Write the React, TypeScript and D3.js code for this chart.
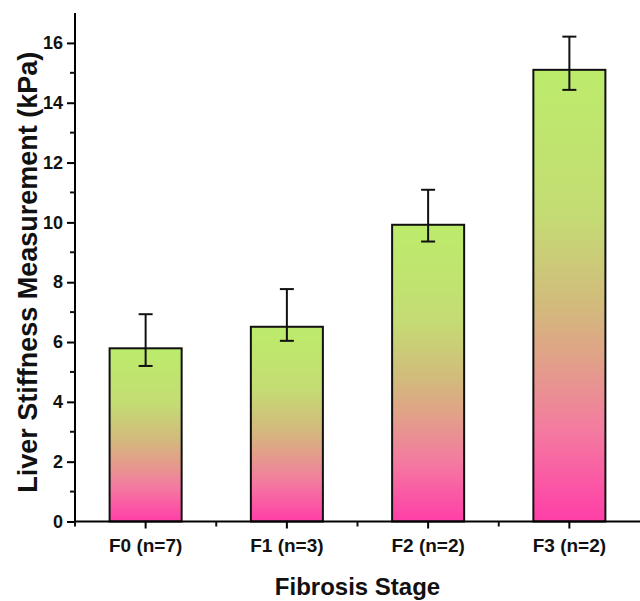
import { useEffect, useRef } from "react";
import * as d3 from "d3";

const categories = ["F0 (n=7)", "F1 (n=3)", "F2 (n=2)", "F3 (n=2)"];
const means = [5.79, 6.51, 9.92, 15.1];
const upper = [6.93, 7.77, 11.09, 16.21];
const lower = [5.2, 6.04, 9.36, 14.43];
const majorTicks = [0, 2, 4, 6, 8, 10, 12, 14, 16];
const minorTicks = [1, 3, 5, 7, 9, 11, 13, 15];

const W = 640;
const H = 601;
const FONT = "'Liberation Sans', Arial, sans-serif";

const App = () => {
  const ref = useRef<SVGSVGElement>(null);

  useEffect(() => {
    const svg = d3.select(ref.current);
    svg.selectAll("*").remove();

    const left = 75;
    const right = 640;
    const top = 13;
    const bottom = 521.5;

    const x = d3.scaleBand().domain(categories).range([left, right]).paddingInner(0.49).paddingOuter(0.245);
    const y = d3.scaleLinear().domain([0, 17]).range([bottom, top]);

    const defs = svg.append("defs");
    const grad = defs
      .append("linearGradient")
      .attr("id", "barGrad")
      .attr("x1", 0)
      .attr("y1", 0)
      .attr("x2", 0)
      .attr("y2", 1);
    [
      [0, "#bcec6b"],
      [0.32, "#c4dc73"],
      [0.52, "#d2bb7c"],
      [0.64, "#e1a188"],
      [0.8, "#f47aa0"],
      [1, "#ff3ea8"],
    ].forEach(([o, c]) => grad.append("stop").attr("offset", o as number).attr("stop-color", c as string));

    // bars
    svg
      .append("g")
      .selectAll("rect")
      .data(categories)
      .join("rect")
      .attr("x", (d) => x(d)!)
      .attr("width", x.bandwidth())
      .attr("y", (d, i) => y(means[i]))
      .attr("height", (d, i) => y(0) - y(means[i]))
      .attr("fill", "url(#barGrad)")
      .attr("stroke", "#111")
      .attr("stroke-width", 2);

    // error bars
    const eg = svg.append("g").attr("stroke", "#111").attr("stroke-width", 2);
    const cap = 7;
    categories.forEach((c, i) => {
      const cx = x(c)! + x.bandwidth() / 2;
      eg.append("line").attr("x1", cx).attr("x2", cx).attr("y1", y(lower[i])).attr("y2", y(upper[i]));
      eg.append("line").attr("x1", cx - cap).attr("x2", cx + cap).attr("y1", y(upper[i])).attr("y2", y(upper[i]));
      eg.append("line").attr("x1", cx - cap).attr("x2", cx + cap).attr("y1", y(lower[i])).attr("y2", y(lower[i]));
    });

    // y axis
    const yAxis = d3.axisLeft(y).tickValues(majorTicks).tickSize(8).tickSizeOuter(0).tickPadding(4);
    const gy = svg.append("g").attr("transform", `translate(${left},0)`).call(yAxis);
    gy.select(".domain").attr("stroke-width", 2).attr("d", `M0,${top}V${bottom}`);
    gy.selectAll(".tick line").attr("stroke-width", 2);
    gy.selectAll(".tick text").attr("font-family", FONT).attr("font-weight", "bold").attr("font-size", 18).attr("fill", "#111");
    gy.append("g")
      .selectAll("line")
      .data(minorTicks)
      .join("line")
      .attr("x1", -5)
      .attr("x2", 0)
      .attr("y1", (d) => y(d))
      .attr("y2", (d) => y(d))
      .attr("stroke", "#111")
      .attr("stroke-width", 2);

    // x axis
    const xAxis = d3.axisBottom(x).tickSize(7).tickSizeOuter(0).tickPadding(10);
    const gx = svg.append("g").attr("transform", `translate(0,${bottom})`).call(xAxis);
    gx.select(".domain").attr("stroke-width", 2).attr("d", `M${left},0H${right}`);
    gx.selectAll(".tick line").attr("stroke-width", 2);
    gx.selectAll(".tick text").attr("font-family", FONT).attr("font-weight", "bold").attr("font-size", 19).attr("fill", "#111");
    const bounds = d3.range(categories.length).map((i) => left + i * x.step());
    gx.append("g")
      .selectAll("line")
      .data(bounds)
      .join("line")
      .attr("x1", (d) => d)
      .attr("x2", (d) => d)
      .attr("y1", 0)
      .attr("y2", 5)
      .attr("stroke", "#111")
      .attr("stroke-width", 2);

    // titles
    svg
      .append("text")
      .attr("x", (left + right) / 2)
      .attr("y", 595)
      .attr("text-anchor", "middle")
      .attr("font-family", FONT)
      .attr("font-weight", "bold")
      .attr("font-size", 24)
      .attr("fill", "#111")
      .text("Fibrosis Stage");

    svg
      .append("text")
      .attr("transform", `translate(37,${(top + bottom) / 2 + 5}) rotate(-90)`)
      .attr("text-anchor", "middle")
      .attr("font-family", FONT)
      .attr("font-weight", "bold")
      .attr("font-size", 27)
      .attr("fill", "#111")
      .text("Liver Stiffness Measurement (kPa)");
  }, []);

  return (
    <svg
      ref={ref}
      width={W}
      height={H}
      style={{ position: "absolute", left: 0, top: 0, background: "#fff" }}
    ></svg>
  );
};

export default App;
